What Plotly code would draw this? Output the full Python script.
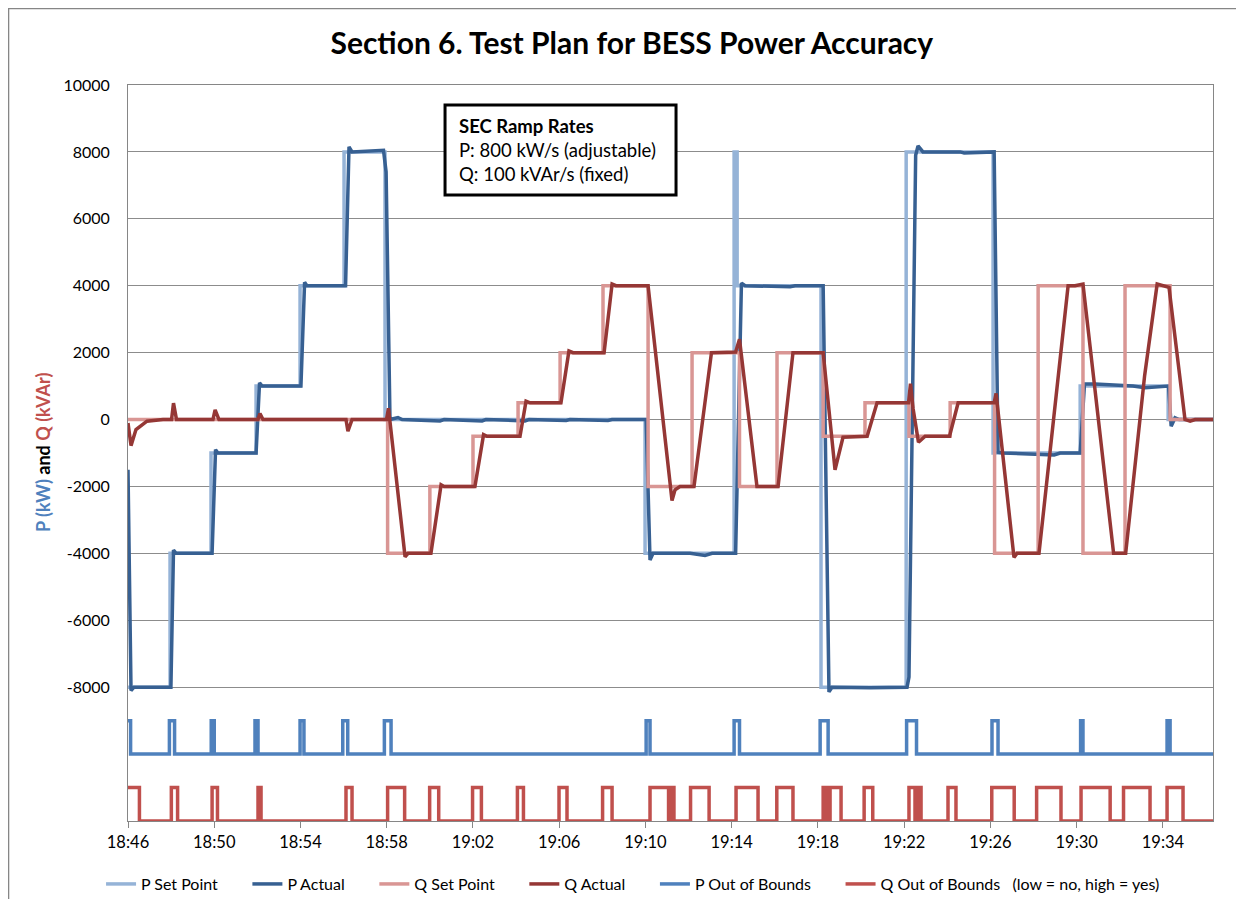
import pandas as pd
import plotly.graph_objects as go

# minutes after 18:46
p_set_t = [0, 1.95, 3.85, 5.94, 7.98, 10.02, 11.92, 23.98, 28.11, 28.25, 32.14, 36.09, 40.12, 44.16, 48.24, 50.32]
p_set_v = [-8000, -4000, -1000, 1000, 4000, 8000, 0, -4000, 8000, 4000, -8000, 8000, -1000, 1000, 0, 0]

p_act_t = [0.00, 0.14, 0.28, 1.99, 2.11, 2.23, 3.90, 4.06, 4.17, 5.94, 6.10, 6.22, 8.02, 8.19, 8.30,
           10.09, 10.25, 10.39, 11.85, 11.97, 12.15, 12.52, 12.71, 14.47, 14.66, 16.42, 16.60, 18.41, 18.60,
           20.32, 20.50, 22.26, 22.45, 24.03, 24.21, 24.35, 26.07, 26.76, 27.09, 28.18, 28.45, 28.62,
           30.71, 30.94, 32.24, 32.47, 32.51, 32.65, 34.42, 36.13, 36.22, 36.53, 36.64, 36.87, 38.59, 38.78,
           40.17, 40.35, 40.58, 42.95, 43.23, 44.16, 44.36, 44.85, 46.61, 47.17, 48.00, 48.26, 48.38, 48.56,
           48.75, 50.32]
p_act_v = [-1500, -8100, -8000, -8000, -3900, -4000, -4000, -900, -1000, -1000, 1100, 1000, 1000, 4100, 4000,
           4000, 8150, 8000, 8050, 7400, 0, 60, 0, -40, 0, -40, 0, -40, 0,
           -30, 0, -30, 0, 0, -4200, -4000, -4000, -4060, -4000, -4000, 4080, 4000,
           3970, 4000, 4000, -8000, -8140, -8000, -8020, -8000, -7700, 7900, 8180, 8000, 8000, 7970,
           8000, -980, -1000, -1060, -1000, -1000, 1060, 1060, 1000, 950, 1000, 1000, -200, 50,
           0, 0]

q_set_t = [0, 12.04, 14.0, 16.0, 18.09, 20.04, 22.03, 24.12, 26.16, 28.36, 30.1, 32.24, 34.18, 36.22,
           38.13, 40.19, 42.21, 44.29, 46.24, 48.33, 50.32]
q_set_v = [0, -4000, -2000, -500, 500, 2000, 4000, -2000, 2000, -2000, 2000, -500, 500, -500,
           500, -4000, 4000, -4000, 4000, 0, 0]

q_act_t = [0.00, 0.14, 0.37, 0.88, 1.62, 2.02, 2.11, 2.25, 3.94, 4.04, 4.22, 6.03, 6.12, 6.26,
           10.11, 10.20, 10.39, 11.99, 12.08, 12.85, 12.99, 14.05, 14.52, 14.66, 16.09, 16.49, 16.65,
           18.18, 18.46, 18.65, 20.08, 20.45, 20.64, 22.08, 22.45, 22.63, 24.12, 25.23, 25.37, 25.60,
           26.25, 27.06, 28.18, 28.36, 29.17, 30.15, 30.84, 32.24, 32.79, 33.16, 34.28, 34.74, 36.20,
           36.29, 36.41, 36.66, 36.97, 38.10, 38.50, 40.17, 40.26, 41.09, 41.23, 42.25, 43.60, 43.92,
           44.29, 45.71, 46.27, 47.15, 47.73, 47.96, 48.28, 49.02, 49.26, 49.49, 50.32]
q_act_v = [-100, -780, -300, -50, 0, 0, 490, 0, 0, 290, 0, 0, 180, 0,
           0, -350, 0, 0, 340, -4100, -4000, -4000, -1950, -2000, -2000, -450, -500,
           -500, 550, 500, 500, 2050, 2000, 2000, 4050, 4000, 4000, -2420, -2100, -2000,
           -2000, 2000, 2020, 2400, -2000, -2000, 2000, 2000, -1500, -530, -500, 500, 500,
           1075, 330, -680, -500, -500, 500, 500, 780, -4120, -4000, -4000, 4000, 4000,
           4050, -4000, -4000, 1320, 4050, 4000, 3950, 0, -50, 0, 0]

# out of bounds flags (0 = no, 1 = yes)
p_oob_t = [0, 0.12, 1.92, 2.16, 3.86, 4.00, 5.89, 6.03, 7.98, 8.16, 9.96, 10.19, 11.89, 12.20,
           24.03, 24.21, 28.11, 28.36, 32.10, 32.47, 36.11, 36.57, 40.07, 40.35, 44.18, 44.29,
           48.19, 48.33, 50.32]
p_oob_f = [1, 0] * 14 + [0]

q_oob_t = [0, 0.53, 2.01, 2.30, 3.90, 4.15, 6.03, 6.17, 10.11, 10.39, 12.04, 12.83, 13.99, 14.41,
           15.98, 16.39, 18.06, 18.34, 19.99, 20.36, 22.01, 22.45, 24.21, 25.07, 25.21, 25.32,
           26.09, 26.95, 28.20, 29.22, 30.09, 30.84, 32.24, 32.40, 32.56, 33.07, 34.14, 34.54,
           36.22, 36.50, 36.64, 36.78, 38.03, 38.40, 40.06, 41.10, 42.14, 43.27, 44.20, 45.55,
           46.17, 47.40, 48.19, 48.93, 50.32]
q_oob_f = [1, 0] * 27 + [0]

y_ticks = [-8000, -6000, -4000, -2000, 0, 2000, 4000, 6000, 8000, 10000]

t0 = pd.Timestamp('2000-01-01 18:46:00')
def tm(m): return [t0 + pd.Timedelta(minutes=v) for v in m]

font = 'Lato'
pad = '\u00a0' * 6  # extra room between legend entries
fig = go.Figure()
fig.add_trace(go.Scatter(x=tm(p_set_t), y=p_set_v, name='P Set Point' + pad, mode='lines', line=dict(color='#95B3D7', width=3.5, shape='hv')))
fig.add_trace(go.Scatter(x=tm(p_act_t), y=p_act_v, name='P Actual' + pad, mode='lines', line=dict(color='#376092', width=3.5)))
fig.add_trace(go.Scatter(x=tm(q_set_t), y=q_set_v, name='Q Set Point' + pad, mode='lines', line=dict(color='#D99694', width=3.5, shape='hv')))
fig.add_trace(go.Scatter(x=tm(q_act_t), y=q_act_v, name='Q Actual' + pad, mode='lines', line=dict(color='#953735', width=3.5)))
fig.add_trace(go.Scatter(x=tm(p_oob_t), y=[-10000 + 1000 * f for f in p_oob_f], name='P Out of Bounds' + pad, mode='lines', line=dict(color='#4F81BD', width=3.5, shape='hv')))
fig.add_trace(go.Scatter(x=tm(q_oob_t), y=[-12000 + 1000 * f for f in q_oob_f], name='Q Out of Bounds\u00a0\u00a0\u00a0(low = no, high = yes)', mode='lines', line=dict(color='#C0504D', width=3.5, shape='hv')))

fig.update_layout(
    width=1228, height=891, template='plotly_white', plot_bgcolor='white', paper_bgcolor='white',
    font=dict(family=font, size=16, color='black'),
    margin=dict(l=120, r=23, t=77, b=78),
    title=dict(text='<b>Section 6. Test Plan for BESS Power Accuracy</b>', x=0.508, xanchor='center', y=0.9596, yanchor='middle', font=dict(size=30, family=font)),
    showlegend=True,
    legend=dict(orientation='h', xref='container', yref='container', x=0.509, xanchor='center', y=0.0168, yanchor='middle', font=dict(size=16), traceorder='normal'),
    xaxis=dict(type='date', range=[t0, t0 + pd.Timedelta(minutes=50.32)], tickformat='%H:%M', dtick=240000, tick0=t0,
               showgrid=False, showline=True, linecolor='#868686', linewidth=1, mirror=True, ticks='outside', ticklen=6, tickcolor='#868686',
               zeroline=False, tickfont=dict(size=16.5)),
    yaxis=dict(range=[-12000, 10000], tickvals=y_ticks, ticktext=[str(v) for v in y_ticks], showgrid=True, gridcolor='#8C8C8C', gridwidth=1,
               showline=True, linecolor='#868686', linewidth=1, mirror=True, ticks='', ticklabelstandoff=14, zeroline=False),
)

# outer frame
fig.add_shape(type='rect', xref='paper', yref='paper', x0=-0.1101, x1=1.04, y0=-0.14, y1=1.104, line=dict(color='#868686', width=1.5), layer='below')
# ramp rates box
fig.add_shape(type='rect', xref='paper', yref='paper', x0=0.2922, x1=0.5051, y0=0.8505, y1=0.9728, line=dict(color='black', width=3), fillcolor='white', layer='above')
fig.add_annotation(xref='paper', yref='paper', x=0.303, y=0.9117, xanchor='left', yanchor='middle', align='left', showarrow=False,
                   text='<b>SEC Ramp Rates</b><br>P: 800 kW/s (adjustable)<br>Q: 100 kVAr/s (fixed)', font=dict(size=18.5, family=font))
# y axis title
fig.add_annotation(xref='paper', yref='paper', x=-0.0783, y=0.5, xanchor='center', yanchor='middle', textangle=-90, showarrow=False,
                   text='<b><span style="color:#4F81BD">P (kW)</span> and <span style="color:#C0504D">Q (kVAr)</span></b>', font=dict(size=18, family=font))

fig.write_html('out.html')
